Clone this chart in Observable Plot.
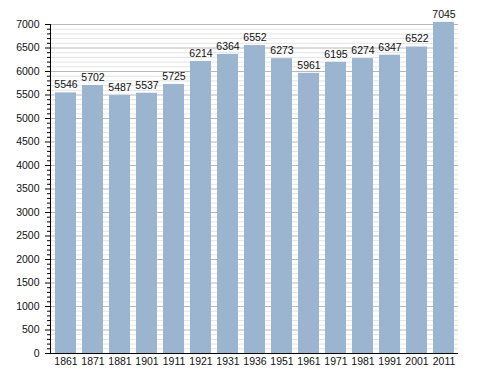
<!DOCTYPE html>
<html>
<head>
<meta charset="utf-8">
<script src="https://cdn.jsdelivr.net/npm/d3@7"></script>
<script src="https://cdn.jsdelivr.net/npm/@observablehq/plot@0.6"></script>
<style>
  body { margin: 0; background: #fff; }
  svg { font-family: "Liberation Sans", Arial, sans-serif; }
</style>
</head>
<body>
<div id="chart"></div>
<script>
const years = ["1861","1871","1881","1901","1911","1921","1931","1936","1951","1961","1971","1981","1991","2001","2011"];
const population = [5546,5702,5487,5537,5725,6214,6364,6552,6273,5961,6195,6274,6347,6522,7045];
const majorTicks = d3.range(0, 7001, 500);
const minorTicks = d3.range(0, 7001, 100).filter(v => v % 500 !== 0);

const data = years.map((y, i) => ({year: y, value: population[i]}));

const chart = Plot.plot({
  width: 488,
  height: 373,
  marginLeft: 50,
  marginRight: 30,
  marginTop: 24,
  marginBottom: 20,
  style: {fontFamily: "Liberation Sans, Arial, sans-serif", fontSize: "10px", background: "#fff"},
  x: {domain: years, paddingInner: 0.24, paddingOuter: 0.05, label: null},
  y: {domain: [0, 7000], label: null},
  marks: [
    Plot.ruleY(minorTicks, {stroke: "#e4e4e4", strokeWidth: 1}),
    Plot.ruleY(majorTicks, {stroke: "#b8b8b8", strokeWidth: 1}),
    Plot.barY(data, {x: "year", y: "value", fill: "#9bb4d0"}),
    Plot.text(data, {x: "year", y: "value", text: d => String(d.value), dy: -8, fontSize: 10.5, fill: "#111"}),
    Plot.axisY(minorTicks, {tickSize: 3, text: null, stroke: "#000"}),
    Plot.axisY(majorTicks, {tickSize: 5, tickPadding: 6, tickFormat: d => String(d), stroke: "#000", fill: "#111", fontSize: 10.5}),
    Plot.axisX({tickSize: 0, tickPadding: 4, fill: "#111", fontSize: 10.5}),
    Plot.frame({anchor: "left", stroke: "#000"}),
    Plot.ruleY([0], {stroke: "#000"})
  ]
});
document.getElementById("chart").appendChild(chart);
</script>
</body>
</html>
